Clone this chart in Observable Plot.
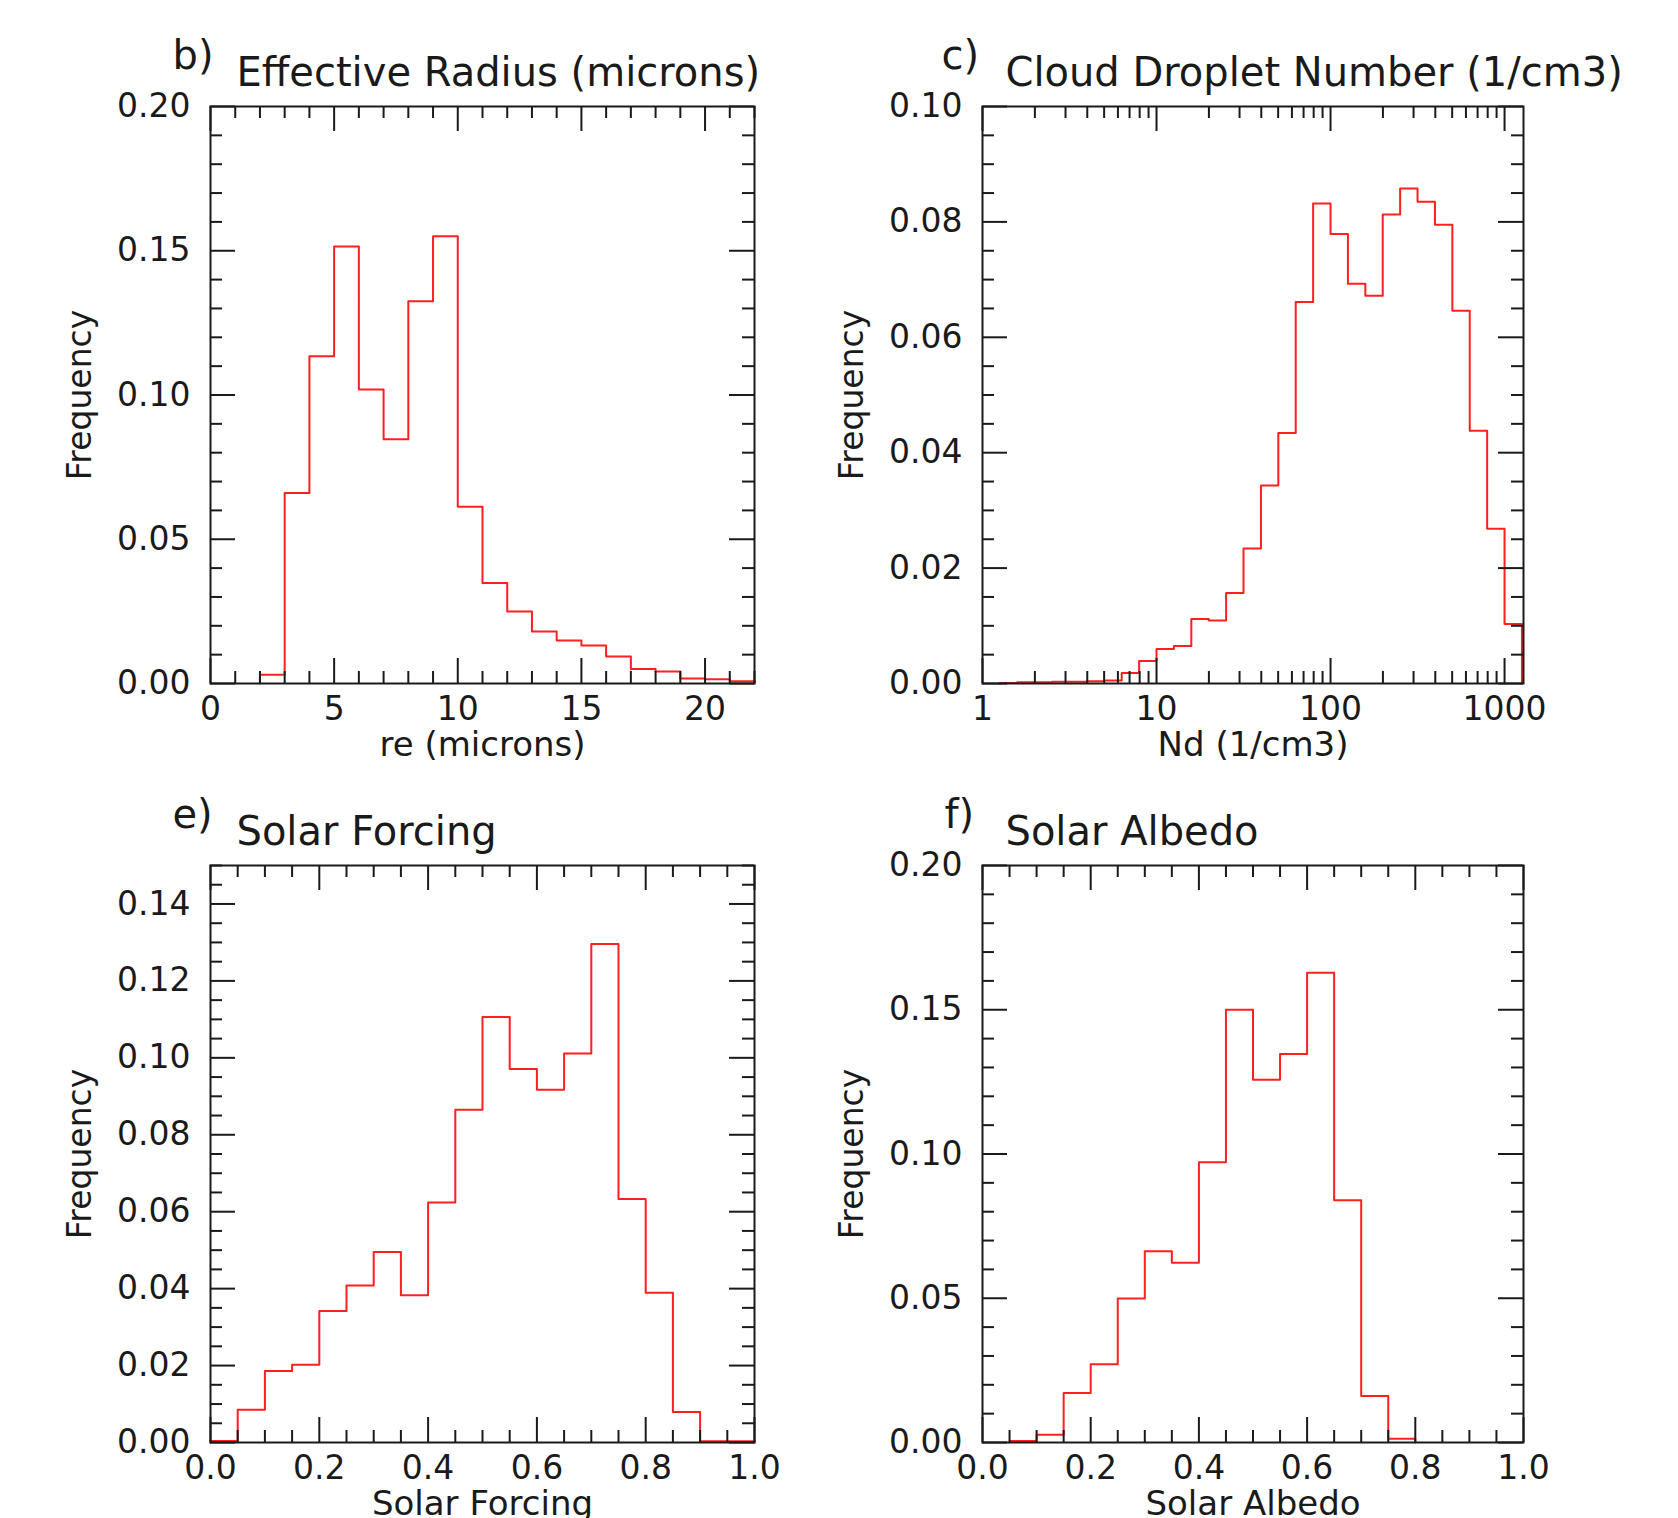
<!DOCTYPE html>
<html><head><meta charset="utf-8">
<script src="https://cdn.jsdelivr.net/npm/d3@7"></script>
<script src="https://cdn.jsdelivr.net/npm/@observablehq/plot@0.6"></script>
<style>
html,body{margin:0;padding:0;background:#fff;}
#root{position:relative;width:1678px;height:1518px;overflow:hidden;background:#fff;}
.cell{position:absolute;width:839px;height:759px;}
</style></head><body><div id="root"></div>
<script>
// ---- data ----
const reEdges = [2,3,4,5,6,7,8,9,10,11,12,13,14,15,16,17,18,19,20,21,22];
const reFreq = [0.003,0.066,0.1134,0.1515,0.1019,0.0847,0.1325,0.155,0.0613,0.0348,0.025,0.018,0.0149,0.0132,0.0094,0.005,0.0042,0.0017,0.0015,0.0008];

const ndEdgeExp = [0.1,0.2,0.3,0.4,0.5,0.6,0.7,0.8,0.9,1.0,1.1,1.2,1.3,1.4,1.5,1.6,1.7,1.8,1.9,2.0,2.1,2.2,2.3,2.4,2.5,2.6,2.7,2.8,2.9,3.0,3.1];
const ndFreq = [0.0001,0.0002,0.0002,0.0003,0.0003,0.0004,0.0005,0.0018,0.0039,0.006,0.0065,0.0112,0.0109,0.0157,0.0234,0.0343,0.0434,0.0661,0.0832,0.0779,0.0693,0.0672,0.0813,0.0858,0.0835,0.0795,0.0646,0.0438,0.0268,0.0103];

const sfEdges = [0,0.05,0.1,0.15,0.2,0.25,0.3,0.35,0.4,0.45,0.5,0.55,0.6,0.65,0.7,0.75,0.8,0.85,0.9,0.95,1.0];
const sfFreq = [0.0004,0.0085,0.0186,0.0202,0.0342,0.0408,0.0495,0.0383,0.0624,0.0865,0.1106,0.0971,0.0917,0.1011,0.1296,0.0633,0.0389,0.0079,0.0003,0.0003];

const saEdges = [0.05,0.1,0.15,0.2,0.25,0.3,0.35,0.4,0.45,0.5,0.55,0.6,0.65,0.7,0.75,0.8];
const saFreq = [0.0005,0.0027,0.0172,0.0271,0.0499,0.0663,0.0623,0.0971,0.150,0.1257,0.1347,0.1628,0.084,0.0161,0.0013];

// tick labels
const reXTicks = [0,5,10,15,20];
const reYTicks = [0,0.05,0.10,0.15,0.20];
const ndXTicks = [1,10,100,1000];
const ndYTicks = [0,0.02,0.04,0.06,0.08,0.10];
const sfXTicks = [0,0.2,0.4,0.6,0.8,1.0];
const sfYTicks = [0,0.02,0.04,0.06,0.08,0.10,0.12,0.14];
const saXTicks = [0,0.2,0.4,0.6,0.8,1.0];
const saYTicks = [0,0.05,0.10,0.15,0.20];

const yLabel = "Frequency";

function stepPoints(edges, freq) {
  const pts = [{x: edges[0], y: 0}];
  freq.forEach((v, i) => pts.push({x: edges[i], y: v}));
  pts.push({x: edges[edges.length - 1], y: freq[freq.length - 1]});
  pts.push({x: edges[edges.length - 1], y: 0});
  return pts;
}

const FONT = "'DejaVu Sans', sans-serif";
const INK = "#1a1a1a";

function panel(cfg) {
  const W = 839, H = 759;
  const fw = W - cfg.ml - cfg.mr, fh = H - cfg.mt - cfg.mb;
  const MAJ = 25, MIN = 12;
  const ts = {stroke: INK, strokeWidth: 2};
  return Plot.plot({
    width: W, height: H,
    marginLeft: cfg.ml, marginRight: cfg.mr, marginTop: cfg.mt, marginBottom: cfg.mb,
    style: {fontFamily: FONT, fontSize: "33px", color: INK, background: "transparent", overflow: "visible"},
    x: {type: cfg.xType || "linear", domain: cfg.xDomain, axis: null, label: null},
    y: {domain: cfg.yDomain, axis: null, label: null},
    marks: [
      Plot.line(cfg.pts, {x: "x", y: "y", curve: "step-after", stroke: "#ff1f1f", strokeWidth: 2}),
      Plot.tickX(cfg.xMajor, {x: d => d, insetTop: fh - MAJ, ...ts}),
      Plot.tickX(cfg.xMajor, {x: d => d, insetBottom: fh - MAJ, ...ts}),
      Plot.tickX(cfg.xMinor, {x: d => d, insetTop: fh - MIN, ...ts}),
      Plot.tickX(cfg.xMinor, {x: d => d, insetBottom: fh - MIN, ...ts}),
      Plot.tickY(cfg.yMajor, {y: d => d, insetRight: fw - MAJ, ...ts}),
      Plot.tickY(cfg.yMajor, {y: d => d, insetLeft: fw - MAJ, ...ts}),
      Plot.tickY(cfg.yMinor, {y: d => d, insetRight: fw - MIN, ...ts}),
      Plot.tickY(cfg.yMinor, {y: d => d, insetLeft: fw - MIN, ...ts}),
      Plot.frame({stroke: INK, strokeWidth: 2}),
      Plot.axisX(cfg.xMajor, {tickSize: 0, tickPadding: 13, tickFormat: cfg.xFormat, fontSize: 33, label: null, fill: INK}),
      Plot.axisY(cfg.yMajor, {tickSize: 0, tickPadding: 20, tickFormat: cfg.yFormat, fontSize: 33, label: null, fill: INK}),
      Plot.text([cfg.xLabel], {frameAnchor: "bottom", dy: 72, lineAnchor: "bottom", textAnchor: "middle", text: d => d, fontSize: 34, fill: INK}),
      Plot.text([yLabel], {frameAnchor: "left", rotate: -90, dx: cfg.yLabelDx, textAnchor: "middle", lineAnchor: "middle", text: d => d, fontSize: 33, fill: INK}),
      Plot.text([cfg.title], {frameAnchor: "top-left", dx: cfg.titleDx, dy: -21, textAnchor: "start", lineAnchor: "bottom", text: d => d, fontSize: 40, fill: INK}),
      Plot.text([cfg.tag], {frameAnchor: "top-left", dx: cfg.tagDx, dy: -38, textAnchor: "start", lineAnchor: "bottom", text: d => d, fontSize: 40, fill: INK})
    ]
  });
}

const f2 = d3.format(".2f"), f1 = d3.format(".1f");
const ndEdges = ndEdgeExp.map(e => Math.pow(10, e));
const logMinor = [];
[1, 10, 100].forEach(p => [2,3,4,5,6,7,8,9].forEach(m => logMinor.push(m * p)));

const panels = [
  {left: 0, top: 0, cfg: {
    ml: 210, mr: 85, mt: 106, mb: 76,
    xDomain: [0, 22], yDomain: [0, 0.20],
    pts: stepPoints(reEdges, reFreq),
    xMajor: reXTicks, xMinor: d3.range(0, 23, 1).filter(v => v % 5 !== 0),
    yMajor: reYTicks, yMinor: d3.range(1, 20).filter(v => v % 5 !== 0).map(v => v / 100),
    xFormat: d => String(d), yFormat: f2,
    xLabel: "re (microns)", title: "Effective Radius (microns)", tag: "b)",
    yLabelDx: -130, titleDx: 26, tagDx: -38
  }},
  {left: 839, top: 0, cfg: {
    ml: 143, mr: 155, mt: 106, mb: 76,
    xType: "log", xDomain: [1, 1285], yDomain: [0, 0.10],
    pts: stepPoints(ndEdges, ndFreq),
    xMajor: ndXTicks, xMinor: logMinor,
    yMajor: ndYTicks, yMinor: d3.range(1, 20).filter(v => v % 4 !== 0).map(v => v * 0.005),
    xFormat: d => String(d), yFormat: f2,
    xLabel: "Nd (1/cm3)", title: "Cloud Droplet Number (1/cm3)", tag: "c)",
    yLabelDx: -130, titleDx: 23, tagDx: -41
  }},
  {left: 0, top: 759, cfg: {
    ml: 210, mr: 85, mt: 106, mb: 76,
    xDomain: [0, 1], yDomain: [0, 0.15],
    pts: stepPoints(sfEdges, sfFreq),
    xMajor: sfXTicks, xMinor: d3.range(1, 20).filter(v => v % 4 !== 0).map(v => v * 0.05),
    yMajor: sfYTicks, yMinor: d3.range(1, 31).filter(v => v % 4 !== 0).map(v => v * 0.005),
    xFormat: f1, yFormat: f2,
    xLabel: "Solar Forcing", title: "Solar Forcing", tag: "e)",
    yLabelDx: -130, titleDx: 26, tagDx: -38
  }},
  {left: 839, top: 759, cfg: {
    ml: 143, mr: 155, mt: 106, mb: 76,
    xDomain: [0, 1], yDomain: [0, 0.20],
    pts: stepPoints(saEdges, saFreq),
    xMajor: saXTicks, xMinor: d3.range(1, 20).filter(v => v % 4 !== 0).map(v => v * 0.05),
    yMajor: saYTicks, yMinor: d3.range(1, 20).filter(v => v % 5 !== 0).map(v => v / 100),
    xFormat: f1, yFormat: f2,
    xLabel: "Solar Albedo", title: "Solar Albedo", tag: "f)",
    yLabelDx: -130, titleDx: 23, tagDx: -38
  }}
];

const root = document.getElementById("root");
panels.forEach(p => {
  const div = document.createElement("div");
  div.className = "cell";
  div.style.left = p.left + "px";
  div.style.top = p.top + "px";
  div.appendChild(panel(p.cfg));
  root.appendChild(div);
});
</script>
</body></html>
